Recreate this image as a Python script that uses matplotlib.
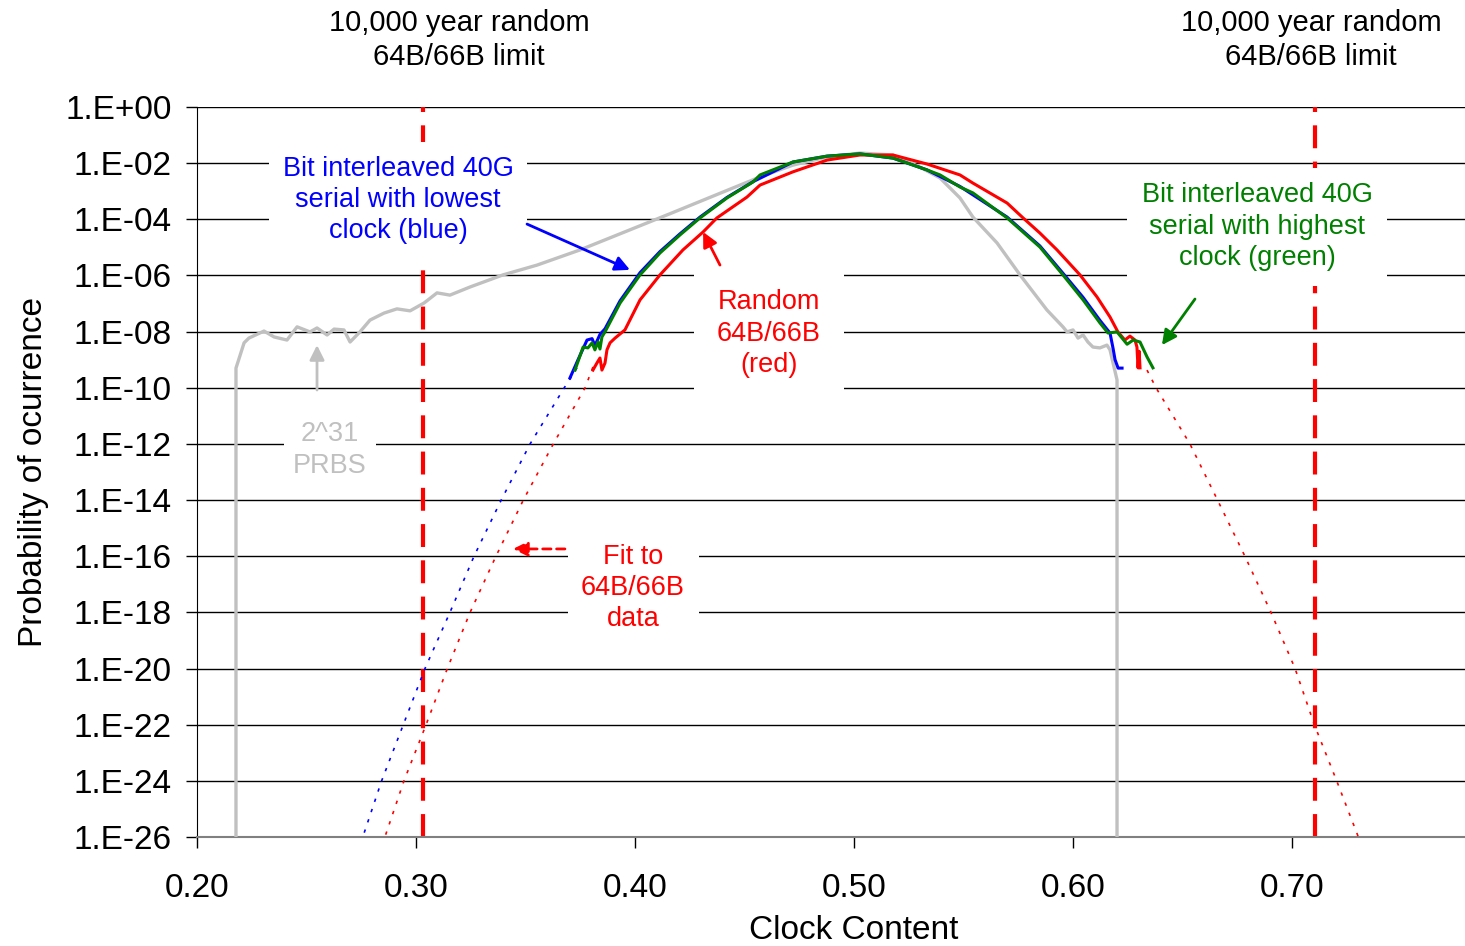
import numpy as np
import matplotlib
matplotlib.use("Agg")
import matplotlib.pyplot as plt
from matplotlib.ticker import FixedLocator, FuncFormatter, NullLocator

plt.rcParams['font.family'] = ['Liberation Sans', 'DejaVu Sans']

# curves: clock content vs log10(probability)
green_x = [0.3726, 0.3763, 0.3785, 0.3804, 0.3817, 0.3831, 0.3840, 0.3849, 0.3863, 0.3932,
           0.4023, 0.4114, 0.4205, 0.4297, 0.4420, 0.4539, 0.4571, 0.4721, 0.4877, 0.5027,
           0.5178, 0.5333, 0.5393, 0.5484, 0.5543, 0.5699, 0.5849, 0.5954, 0.6046, 0.6123,
           0.6160, 0.6201, 0.6247, 0.6275, 0.6306, 0.6338, 0.6365]
green_log = [-9.37, -8.55, -8.58, -8.40, -8.65, -8.37, -8.62, -8.19, -8.01, -6.98,
             -5.98, -5.20, -4.56, -3.95, -3.24, -2.67, -2.42, -1.96, -1.75, -1.67,
             -1.82, -2.24, -2.42, -2.85, -3.06, -3.95, -4.99, -5.98, -6.87, -7.69,
             -8.05, -8.01, -8.45, -8.30, -8.37, -8.90, -9.29]

blue_x = [0.3703, 0.3740, 0.3781, 0.3804, 0.3817, 0.3840, 0.3863, 0.3932, 0.4023, 0.4114,
          0.4205, 0.4297, 0.4420, 0.4539, 0.4721, 0.4877, 0.5027, 0.5178, 0.5333, 0.5484,
          0.5699, 0.5849, 0.5954, 0.6046, 0.6123, 0.6169, 0.6183, 0.6192, 0.6206, 0.6224]
blue_log = [-9.65, -9.00, -8.30, -8.25, -8.50, -8.10, -7.90, -6.90, -5.90, -5.15,
            -4.52, -3.92, -3.22, -2.66, -1.96, -1.75, -1.67, -1.82, -2.24, -2.83,
            -3.92, -4.95, -5.92, -6.78, -7.60, -8.05, -8.60, -9.00, -9.30, -9.30]

red_x = [0.3808, 0.3826, 0.3840, 0.3849, 0.3863, 0.3872, 0.3886, 0.3909, 0.3954, 0.4023,
         0.4114, 0.4219, 0.4311, 0.4374, 0.4511, 0.4571, 0.4721, 0.4877, 0.5027, 0.5178,
         0.5333, 0.5484, 0.5543, 0.5699, 0.5772, 0.5849, 0.5927, 0.6032, 0.6110, 0.6169,
         0.6205, 0.6237, 0.6260, 0.6283, 0.6292, 0.6297, 0.6302, 0.6306]
red_log = [-9.37, -9.12, -8.94, -9.37, -9.12, -8.65, -8.40, -8.23, -7.94, -6.87,
           -5.98, -5.09, -4.45, -3.95, -3.21, -2.78, -2.31, -1.89, -1.71, -1.71,
           -2.03, -2.42, -2.71, -3.42, -3.95, -4.49, -5.09, -5.98, -6.77, -7.48,
           -8.01, -8.30, -8.16, -8.30, -8.55, -9.29, -8.70, -9.29]

prbs_x = [0.2178, 0.2178, 0.2215, 0.2237, 0.2306, 0.2352, 0.2411, 0.2457, 0.2516, 0.2548,
          0.2594, 0.2626, 0.2671, 0.2699, 0.2744, 0.2790, 0.2854, 0.2913, 0.2973, 0.3037,
          0.3096, 0.3155, 0.3247, 0.3397, 0.3553, 0.3749, 0.4160, 0.4571, 0.4721, 0.4877,
          0.5027, 0.5178, 0.5301, 0.5393, 0.5484, 0.5543, 0.5653, 0.5758, 0.5881, 0.5954,
          0.5973, 0.6000, 0.6023, 0.6046, 0.6068, 0.6091, 0.6123, 0.6155, 0.6169, 0.6183,
          0.6201, 0.6201]
prbs_log = [-26.0, -9.30, -8.40, -8.23, -7.98, -8.19, -8.30, -7.83, -8.01, -7.87,
            -8.12, -7.91, -7.94, -8.37, -8.01, -7.59, -7.34, -7.19, -7.26, -6.98,
            -6.62, -6.70, -6.41, -5.98, -5.63, -5.09, -3.80, -2.49, -2.07, -1.78,
            -1.64, -1.71, -2.14, -2.53, -3.24, -3.92, -4.84, -5.98, -7.23, -7.83,
            -8.01, -7.94, -8.23, -8.12, -8.37, -8.55, -8.58, -8.48, -8.65, -9.12,
            -9.72, -26.0]

# extrapolated fits (dotted)
fit_blue_x = [0.3735, 0.3677, 0.3521, 0.3389, 0.3265, 0.3155, 0.3041, 0.2942, 0.2843, 0.2757]
fit_blue_log = [-9.29, -10, -12, -14, -16, -18, -20, -22, -24, -26]
fit_red_left_x = [0.3808, 0.3772, 0.3627, 0.3490, 0.3365, 0.3247, 0.3143, 0.3046, 0.2945, 0.2858]
fit_red_left_log = [-9.26, -10, -12, -14, -16, -18, -20, -22, -24, -26]
fit_red_right_x = [0.6338, 0.6379, 0.6534, 0.6660, 0.6785, 0.6904, 0.7014, 0.7102, 0.7204, 0.7303]
fit_red_right_log = [-9.37, -10, -12, -14, -16, -18, -20, -22, -24, -26]

limit_x = [0.3030, 0.7107]
limit_label = "10,000 year random\n64B/66B limit"

y_exponents = list(range(0, -27, -2))
x_ticks = [0.20, 0.30, 0.40, 0.50, 0.60, 0.70]

BLUE, GREEN, RED, GRAY = '#0000FF', '#008000', '#FF0000', '#C0C0C0'


def p(vals):
    return 10.0 ** np.asarray(vals, dtype=float)


fig = plt.figure(figsize=(14.65, 9.46), dpi=100)
# plot area runs a little past the right edge of the picture (to 0.80)
ax = fig.add_axes([197 / 1465, 109 / 946, 1314 / 1465, 730 / 946])
ax.set_yscale('log')
ax.set_xlim(0.2, 0.8)
ax.set_ylim(1e-26, 1)

# gridlines and axes look
ax.set_axisbelow(True)
ax.grid(axis='y', which='major', color='black', linewidth=1.0)
ax.grid(axis='x', visible=False)
ax.yaxis.set_major_locator(FixedLocator(p(y_exponents)))
ax.yaxis.set_minor_locator(NullLocator())
ax.yaxis.set_major_formatter(FuncFormatter(lambda v, pos: f"1.E{int(round(np.log10(v))):+03d}"))
ax.set_xticks(x_ticks)
ax.xaxis.set_major_formatter(FuncFormatter(lambda v, pos: f"{v:.2f}"))
ax.tick_params(axis='both', direction='out', labelsize=24, length=8, width=1)
ax.tick_params(axis='x', pad=18)
ax.tick_params(axis='y', pad=10)
for s in ['top', 'right']:
    ax.spines[s].set_visible(False)
ax.spines['left'].set_color('black')
ax.spines['bottom'].set_color('#808080')
ax.spines['bottom'].set_linewidth(1.5)

ax.set_xlabel("Clock Content", fontsize=24, labelpad=8)
ax.set_ylabel("Probability of ocurrence", fontsize=24, labelpad=12)

# 10,000 year limits
for xv in limit_x:
    ax.plot([xv, xv], [1e-26, 1], color=RED, lw=3, linestyle=(0, (5.5, 3.2)), zorder=2)
for xc in [459 / 1465, 1311 / 1465]:
    fig.text(xc, 1 - 40 / 946, limit_label, ha='center', va='center', fontsize=21,
             linespacing=1.3)

# fits
dot = (0, (2, 4.5))
ax.plot(fit_blue_x, p(fit_blue_log), color=BLUE, lw=1.2, linestyle=dot, zorder=4)
ax.plot(fit_red_left_x, p(fit_red_left_log), color=RED, lw=1.2, linestyle=dot, zorder=4)
ax.plot(fit_red_right_x, p(fit_red_right_log), color=RED, lw=1.2, linestyle=dot, zorder=4)

# measured curves
ax.plot(prbs_x, p(prbs_log), color=GRAY, lw=2.4, zorder=4)
ax.plot(blue_x, p(blue_log), color=BLUE, lw=2.2, zorder=4)
ax.plot(red_x, p(red_log), color=RED, lw=2.2, zorder=4)
ax.plot(green_x, p(green_log), color=GREEN, lw=2.2, zorder=5)

# labels with white boxes
def label(x, lg, s, color, pad):
    ax.text(x, 10 ** lg, s, color=color, fontsize=19.5, ha='center', va='center',
            linespacing=1.27, zorder=3,
            bbox=dict(facecolor='white', edgecolor='none', boxstyle=f'square,pad={pad}'))

label(0.2918, -3.31, "Bit interleaved 40G\nserial with lowest\nclock (blue)", BLUE, 0.5)
label(0.6840, -4.27, "Bit interleaved 40G\nserial with highest\nclock (green)", GREEN, 0.55)
label(0.4612, -8.08, "Random\n64B/66B\n(red)", RED, 0.85)
label(0.2607, -12.21, "2^31\nPRBS", GRAY, 0.35)
label(0.3991, -17.13, "Fit to\n64B/66B\ndata", RED, 0.5)

# arrows
def arrow(x0, l0, x1, l1, color, ls='-'):
    ax.annotate('', xy=(x1, 10 ** l1), xytext=(x0, 10 ** l0), zorder=6,
                arrowprops=dict(arrowstyle='-|>', color=color, lw=2, linestyle=ls,
                                mutation_scale=22, shrinkA=0, shrinkB=0))

arrow(0.3507, -4.17, 0.3977, -5.80, BLUE)
arrow(0.4388, -5.63, 0.4311, -4.45, RED)
arrow(0.2548, -10.08, 0.2548, -8.48, GRAY)
arrow(0.6557, -6.84, 0.6406, -8.48, GREEN)
arrow(0.3680, -15.74, 0.3443, -15.74, RED, ls=(0, (3, 2)))

fig.savefig("out.png", dpi=100)
